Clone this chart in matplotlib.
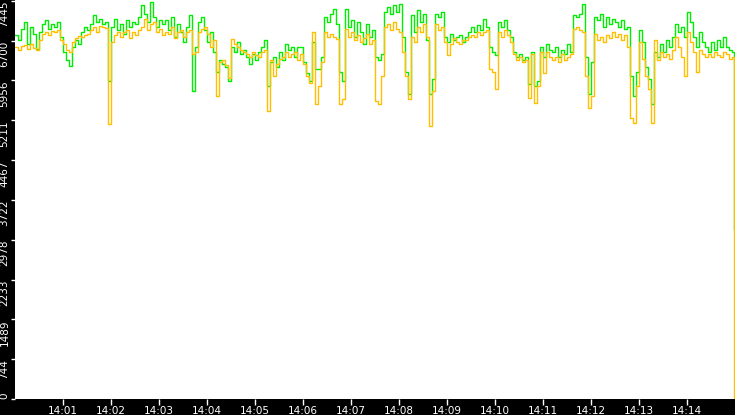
import numpy as np
import matplotlib
matplotlib.use('Agg')
import matplotlib.pyplot as plt

# samples every 3.75 s starting 14:00:00
step_s = 3.75

green = [6812, 6719, 6924, 7054, 6644, 6961, 6830, 6551, 6868, 7017,
         7091, 6924, 7017, 6961, 7054, 6775, 6496, 6347, 6235, 6589,
         6719, 6644, 6868, 6961, 6905, 7017, 7184, 7054, 7110, 7017,
         7054, 5937, 6961, 7110, 6905, 7017, 6830, 7091, 6961, 7054,
         7017, 7147, 7370, 7203, 7054, 7426, 7147, 6961, 7091, 7017,
         7091, 6905, 7147, 6775, 7017, 6868, 6682, 6961, 7184, 5751,
         6589, 7054, 7147, 6905, 6682, 6868, 6496, 6123, 6347, 6272,
         6216, 5937, 6589, 6496, 6682, 6458, 6533, 6402, 6272, 6458,
         6347, 6496, 6589, 6719, 5844, 6309, 6402, 6216, 6496, 6347,
         6644, 6533, 6589, 6402, 6589, 6589, 6309, 6086, 5937, 6682,
         6179, 6161, 6402, 7147, 7054, 7203, 7296, 7017, 6123, 5937,
         7296, 6961, 7091, 6775, 7054, 6868, 6644, 7017, 6775, 6905,
         6402, 6347, 6458, 7240, 7333, 7203, 7370, 7240, 7389, 6775,
         6123, 5695, 7184, 6868, 7277, 7054, 7203, 6719, 5695, 5975,
         7203, 7147, 7240, 6775, 6682, 6830, 6719, 6775, 6812, 6682,
         6775, 6868, 6961, 6868, 6998, 6905, 7110, 6961, 6589, 6496,
         6440, 7054, 6961, 7091, 6905, 6775, 6496, 6402, 6458, 6347,
         6402, 5881, 6496, 5844, 5937, 6589, 6402, 6644, 6533, 6496,
         6589, 6402, 6533, 6458, 6644, 6496, 7184, 7147, 7203, 7389,
         6402, 5695, 6309, 7147, 7091, 7203, 6961, 7147, 7017, 7110,
         7054, 6961, 7091, 6924, 6961, 6030, 5658, 6123, 6905, 6682,
         6216, 5975, 5509, 6496, 6402, 6644, 6496, 6719, 6589, 6775,
         7017, 6868, 6961, 6775, 7240, 7054, 6775, 6589, 6868, 6682,
         6589, 6496, 6682, 6533, 6719, 6589, 6775, 6589, 6533, 6496]

orange = [6589, 6533, 6607, 6626, 6551, 6644, 6570, 6533, 6719, 6830,
          6868, 6812, 6886, 6868, 6905, 6719, 6644, 6533, 6496, 6682,
          6756, 6793, 6775, 6812, 6830, 6905, 6961, 6868, 6979, 6961,
          6942, 5137, 6682, 6812, 6868, 6775, 6868, 6905, 6756, 6868,
          6812, 6905, 6961, 7110, 6905, 7017, 7054, 6868, 6924, 6812,
          6868, 6830, 6961, 6756, 6868, 6905, 6775, 6868, 6905, 6458,
          6496, 6868, 6924, 6961, 6830, 6589, 6719, 5658, 6309, 6347,
          6254, 5993, 6737, 6644, 6589, 6533, 6496, 6458, 6402, 6496,
          6440, 6402, 6496, 6533, 5379, 6347, 6030, 6272, 6365, 6402,
          6496, 6402, 6458, 6496, 6347, 6458, 6272, 6030, 5900, 6868,
          5509, 5844, 6309, 6868, 6775, 6830, 6775, 6737, 5509, 5602,
          6924, 6775, 6868, 6719, 6812, 6682, 6756, 6830, 6644, 6719,
          5565, 5509, 6030, 6961, 7017, 6905, 7054, 6924, 6868, 6496,
          6030, 5602, 6775, 6682, 6961, 6868, 7017, 6775, 5100, 5751,
          7017, 6905, 6961, 6682, 6440, 6644, 6756, 6682, 6644, 6719,
          6719, 6775, 6812, 6775, 6868, 6812, 6868, 6905, 6179, 6123,
          5788, 6868, 6775, 6905, 6812, 6682, 6458, 6347, 6402, 6309,
          6347, 5621, 6458, 5528, 5844, 6496, 6086, 6496, 6402, 6347,
          6402, 6309, 6458, 6347, 6402, 6458, 6924, 6961, 6905, 6868,
          6030, 5435, 5658, 6830, 6719, 6775, 6682, 6812, 6756, 6868,
          6775, 6830, 6719, 6812, 6589, 5249, 5156, 5844, 6682, 6365,
          6030, 5788, 5156, 6719, 6347, 6496, 6402, 6458, 6365, 6533,
          6775, 6589, 6402, 6030, 6868, 6682, 6496, 6123, 6533, 6458,
          6402, 6458, 6402, 6496, 6440, 6402, 6496, 6458, 6365, 6402]

# last reading (minutes after 14:00) and its values
last_min = 14.98
green_last = 3180
orange_last = 0

y_ticks = [0, 744, 1489, 2233, 2978, 3722, 4467, 5211, 5956, 6700, 7445]
x_ticks = list(range(1, 15))
x_labels = ['14:%02d' % m for m in x_ticks]

t = np.arange(len(green)) * step_s / 60.0
tg = np.append(t, last_min)
g = np.append(green, green_last)
o = np.append(orange, orange_last)

fig = plt.figure(figsize=(7.35, 4.15), dpi=100, facecolor='black')
ax = fig.add_axes((15 / 735, 16 / 415, 720 / 735, 399 / 415))
ax.set_facecolor('white')

ax.plot(tg, g, drawstyle='steps-post', color='#00ee00', lw=1.0)
ax.plot(tg, o, drawstyle='steps-post', color='#ffbf00', lw=1.0)

ax.set_xlim(0, 15)
ax.set_ylim(0, 7460)
for s in ax.spines.values():
    s.set_visible(False)

ax.set_xticks(x_ticks, x_labels)
ax.set_yticks(y_ticks, [str(v) for v in y_ticks])
ax.tick_params(axis='x', colors='white', length=4, width=1, pad=1, labelsize=7.5)
ax.tick_params(axis='y', colors='white', length=3, width=1, pad=1, labelsize=7.5,
               labelrotation=90)
for lab in ax.get_yticklabels():
    lab.set_va('top')
ax.get_yticklabels()[0].set_va('bottom')

fig.savefig('out.png', dpi=100, facecolor='black')
